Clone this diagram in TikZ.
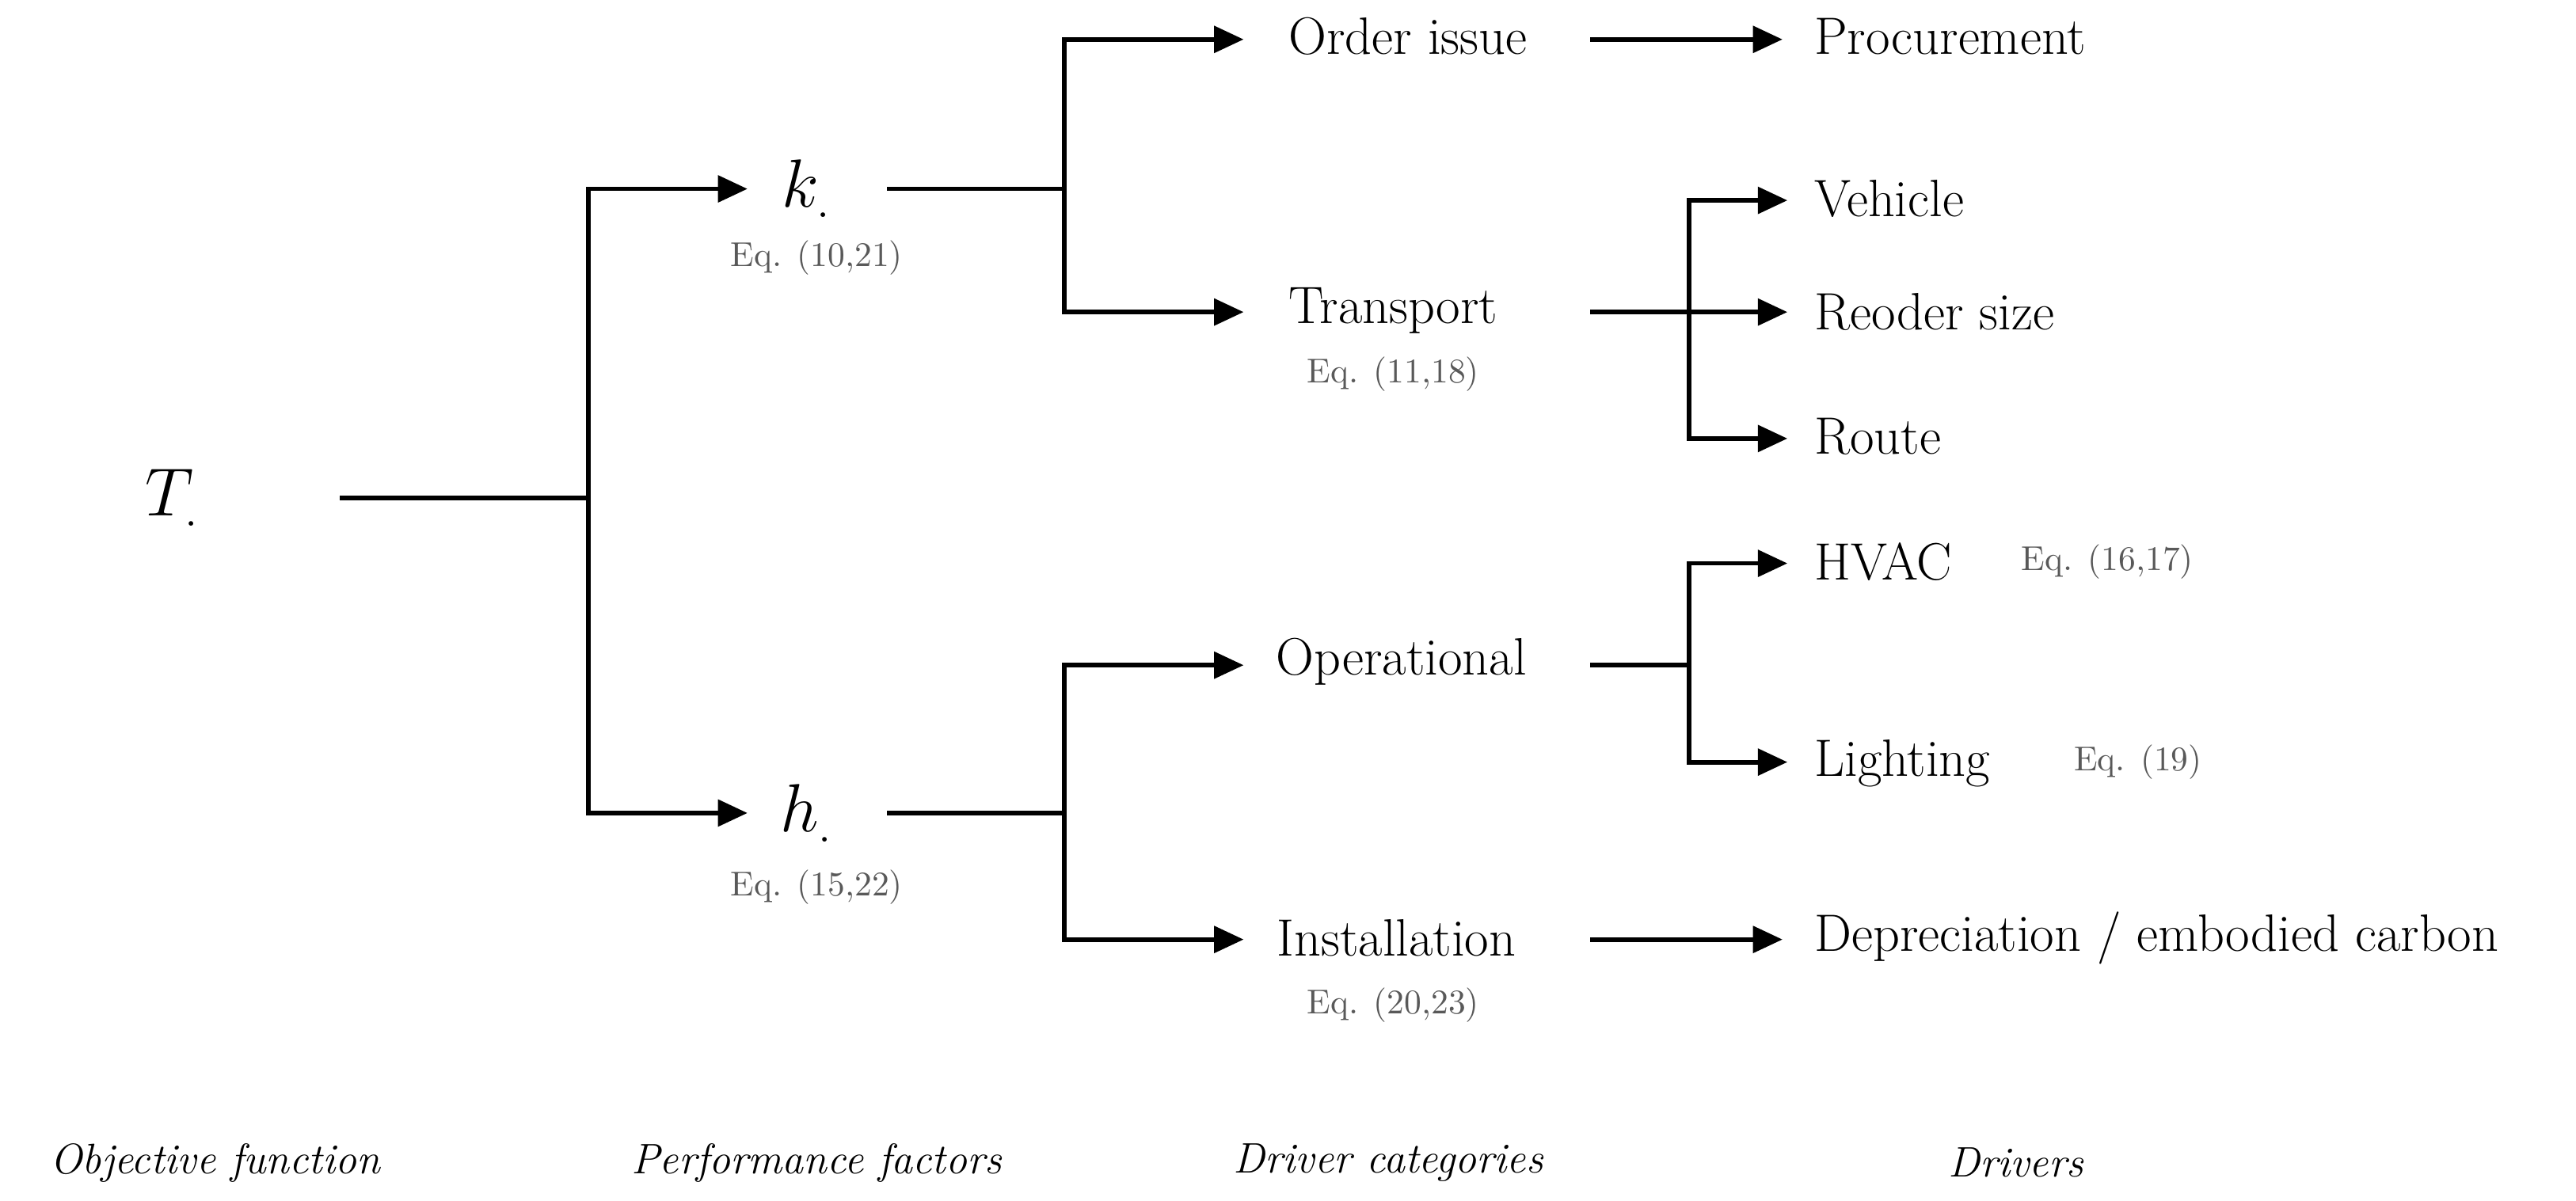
\documentclass[tikz,border=0pt]{standalone}
\usetikzlibrary{arrows.meta}
\begin{document}
\begin{tikzpicture}[x=0.5pt,y=-0.5pt,
  ln/.style={line width=1.4pt},
  ar/.style={ln,-{Triangle[length=9pt,width=8pt]}},
  lab/.style={font=\fontsize{16}{18}\selectfont,inner sep=0pt},
  lft/.style={lab,anchor=west},
  eq/.style={font=\fontsize{10.5}{12}\selectfont,text=black!65,inner sep=0pt},
  capt/.style={font=\fontsize{13}{15}\selectfont\itshape,inner sep=0pt}]
\useasboundingbox (0,0) rectangle (1568,731);
% nodes
\node[lab,font=\fontsize{22}{24}\selectfont] (T) at (105,303) {$T_{.}$};
\node[lab,font=\fontsize{22}{24}\selectfont] (k) at (491,115) {$k_{.}$};
\node[eq] (ke) at (497,157) {Eq. (10,21)};
\node[lab,font=\fontsize{22}{24}\selectfont] (h) at (491,495) {$h_{.}$};
\node[eq] (he) at (497,540) {Eq. (15,22)};
\node[lab] (oi) at (857,22) {Order issue};
\node[lab] (tr) at (848,189) {Transport};
\node[eq] (tre) at (848,228) {Eq. (11,18)};
\node[lab] (op) at (853,403) {Operational};
\node[lab] (in) at (850,571) {Installation};
\node[eq] (ine) at (848,612) {Eq. (20,23)};
\node[lft] (pr) at (1104,22) {Procurement};
\node[lft] (ve) at (1104,121) {Vehicle};
\node[lft] (rs) at (1104,190) {Reoder size};
\node[lft] (ro) at (1104,266) {Route};
\node[lft] (hv) at (1104,342) {HVAC};
\node[eq,anchor=west] (hve) at (1230,342) {Eq. (16,17)};
\node[lft] (li) at (1104,465) {Lighting};
\node[eq,anchor=west] (lie) at (1262,464) {Eq. (19)};
\node[lft] (de) at (1104,571) {Depreciation / embodied carbon};
\node[capt] (c1) at (131,708) {Objective function};
\node[capt] (c2) at (497,708) {Performance factors};
\node[capt] (c3) at (845,708) {Driver categories};
\node[capt] (c4) at (1227,708) {Drivers};
% coordinates
\coordinate (Ts) at (207,303); \coordinate (Tj) at (358,303);
\coordinate (ks) at (540,115); \coordinate (kj) at (648,115);
\coordinate (hs) at (540,495); \coordinate (hj) at (648,495);
\coordinate (ts) at (968,190); \coordinate (tj) at (1028,190);
\coordinate (os) at (968,405); \coordinate (oj) at (1028,405);
\coordinate (is) at (968,572); \coordinate (ois) at (968,24);
% connectors
\draw[ln] (Ts) -- (Tj);
\draw[ar] (Tj) |- (455,115);
\draw[ar] (Tj) |- (455,495);
\draw[ln] (ks) -- (kj);
\draw[ar] (kj) |- (757,24);
\draw[ar] (kj) |- (757,190);
\draw[ln] (hs) -- (hj);
\draw[ar] (hj) |- (757,405);
\draw[ar] (hj) |- (757,572);
\draw[ar] (ois) -- (1085,24);
\draw[ln] (ts) -- (tj);
\draw[ar] (tj) -- (1088,190);
\draw[ar] (tj) |- (1088,122);
\draw[ar] (tj) |- (1088,267);
\draw[ln] (os) -- (oj);
\draw[ar] (oj) |- (1088,343);
\draw[ar] (oj) |- (1088,464);
\draw[ar] (is) -- (1085,572);
\end{tikzpicture}
\end{document}
